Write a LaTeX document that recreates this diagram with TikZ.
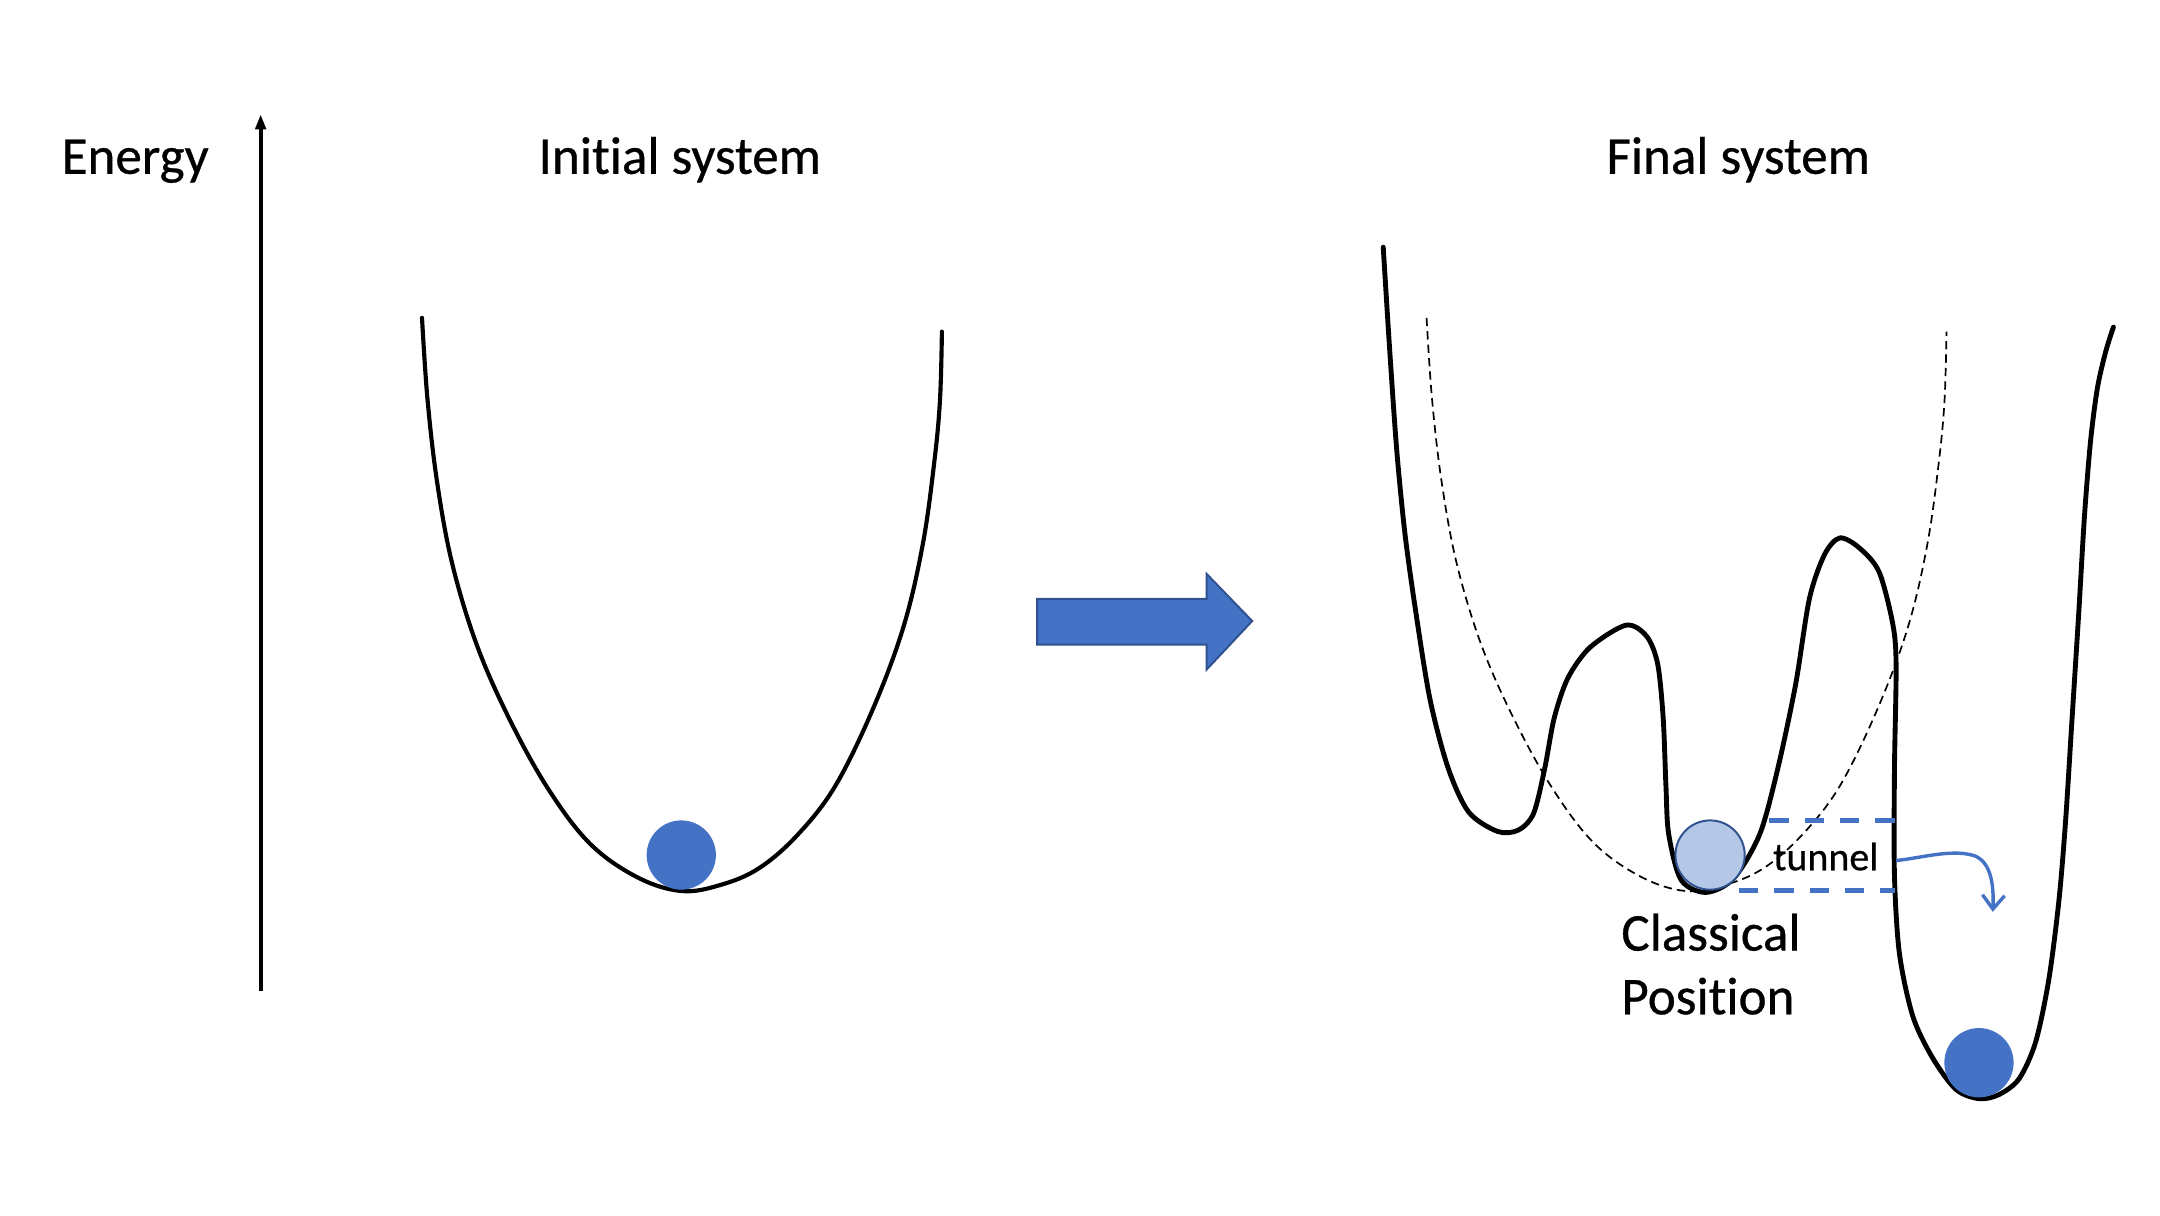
\documentclass[tikz,border=0pt]{standalone}
\usepackage{fontspec}
\setmainfont{Carlito}[Ligatures=CommonOff, FakeBold=0.6]
\usetikzlibrary{arrows.meta}
\definecolor{accblue}{HTML}{4472C4}
\definecolor{lightblue}{HTML}{B4C7E7}
\definecolor{darkblue}{HTML}{2F528F}
\begin{document}
\begin{tikzpicture}[x=0.01cm,y=-0.01cm,
  curve/.style={line width=1.0pt, line cap=round, line join=round},
  initcurve/.style={line width=0.85pt, line cap=round, line join=round},
  guide/.style={line width=0.35pt, dash pattern=on 0.06cm off 0.037cm},
  tunline/.style={accblue, line width=0.9pt, dash pattern=on 0.14cm off 0.115cm},
  title/.style={font=\fontsize{10.9}{13}\selectfont, inner sep=0pt},
  small/.style={font=\fontsize{8.2}{10}\selectfont, inner sep=0pt},
  ball/.style={fill=accblue, circle, minimum size=0.5cm, inner sep=0pt},
  lightball/.style={fill=lightblue, draw=darkblue, line width=0.4pt, circle, minimum size=0.5cm, inner sep=0pt}]
\useasboundingbox (0,0) rectangle (1560,877.5);
\begin{scope}[xscale=0.996, xshift=-0.01cm, yshift=0.025cm]

% texts
\node[title, anchor=base west] (energy) at (45,128) {Energy};
\node[title, anchor=base] (initial) at (494,128) {Initial system};
\node[title, anchor=base] (final) at (1261.5,128) {Final system};
\node[title, anchor=base west] (classical) at (1176,689) {Classical};
\node[title, anchor=base west] (position) at (1176,735) {Position};
\node[small, anchor=base west] (tunnel) at (1286,631) {tunnel};

% energy axis
\coordinate (axbot) at (190,718);
\coordinate (axtop) at (190,85);
\draw[line width=0.8pt, -{Triangle[length=1.1mm,width=0.75mm]}] (axbot) -- (axtop);

% initial parabola
\def\wellpts{(307,232) (311,291) (318,351) (329,410) (347,469) (371,523)
 (399,573) (429,612) (463,636) (495,646) (523.5,641.6)
 (551.1,629.7) (578.8,606) (606.5,570.4) (634.2,514) (656.3,454.6)
 (670.2,395.2) (678.5,335.9) (682.6,291.4) (684,242)}
\draw[initcurve] plot[smooth, tension=0.6] coordinates {\wellpts};

% dashed guide parabola (shifted copy)
\begin{scope}[xshift=7.28cm]
\draw[guide] plot[smooth, tension=0.6] coordinates {\wellpts};
\end{scope}

% final potential
\draw[curve] plot[smooth, tension=0.5] coordinates {
 (1004,181) (1009,260) (1014,330) (1020,390) (1028,447) (1038,508)
 (1051,557) (1066,589) (1087,603) (1102,602) (1113,590) (1121,558)
 (1128,521) (1138,492) (1154,470) (1180,454) (1195,462) (1203,482)
 (1207,521) (1209,570) (1211,605) (1220,638) (1238,647) (1258,637)
 (1277,605) (1290,558) (1303,497) (1313,435) (1324,403) (1335,391)
 (1349,398) (1363.5,415.4) (1373.5,453.2) (1375.9,483.4) (1374.7,558.9)
 (1374.7,634.4) (1378.3,691.1) (1388,736.4) (1402.4,766.6) (1419.3,789.3)
 (1436.1,796) (1450.5,793) (1465,781.7) (1477,755.3) (1486.6,710.1)
 (1493.9,653.4) (1498.7,596.7) (1503.5,521.2) (1508.3,445.7) (1512.5,375)
 (1517,320) (1522,282) (1528,256) (1533.5,238.7)};

% block arrow
\fill[accblue, draw=darkblue, line width=0.4pt]
 (753,435) -- (876,435) -- (876,417) -- (909,451) -- (876,486) -- (876,468) -- (753,468) -- cycle;

% balls
\node[ball] (ball1) at (495,620) {};
\node[lightball] (ball2) at (1241,620) {};
\node[ball] (ball3) at (1436,770) {};

% tunnel lines
\coordinate (t1a) at (1284,595);
\coordinate (t1b) at (1378,595);
\coordinate (t2a) at (1262,645.5);
\coordinate (t2b) at (1375,645.5);
\draw[tunline] (t1a) -- (t1b);
\draw[tunline] (t2a) -- (t2b);

% tunnelling arrow
\coordinate (tunstart) at (1376,624);
\coordinate (tunend) at (1446,661);
\draw[accblue, line width=0.7pt, -{Straight Barb[length=1.0mm,width=1.6mm]}]
 (tunstart) .. controls (1395,622) and (1418,615) .. (1434,621)
 .. controls (1444,626) and (1447,640) .. (tunend);
\end{scope}
\end{tikzpicture}
\end{document}
